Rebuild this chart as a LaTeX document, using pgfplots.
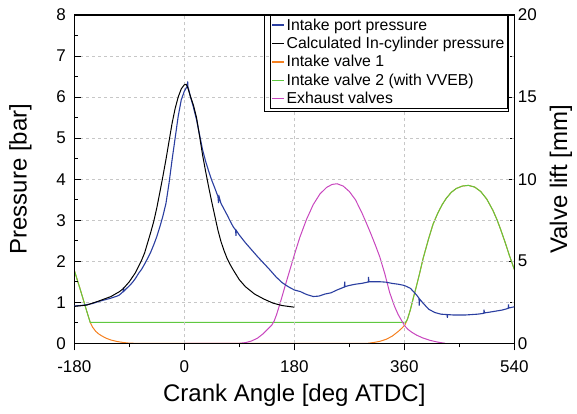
\documentclass[border=0pt]{standalone}
\usepackage{fontspec}
\setmainfont{Liberation Sans}
\usepackage{pgfplots}
\pgfplotsset{compat=1.18}
\definecolor{cblue}{RGB}{42,62,160}
\definecolor{corange}{RGB}{245,128,32}
\definecolor{cgreen}{RGB}{96,200,64}
\definecolor{cmag}{RGB}{200,70,190}
\begin{document}
\begin{tikzpicture}
\useasboundingbox (-74.3pt,-69.7pt) rectangle (502.7pt,343.3pt);
\pgfplotsset{
  common/.style={
    width=440pt, height=328.3pt, scale only axis,
    xmin=-180, xmax=540,
    /pgf/number format/assume math mode=true,
    tick label style={font=\fontsize{17}{20}\selectfont, black},
    label style={font=\fontsize{24}{28}\selectfont},
    major tick length=7pt, minor tick length=4pt,
    every tick/.style={black, line width=1pt},
    axis line style={line width=1.2pt},
  }
}
\begin{axis}[common,
  ymin=0, ymax=20,
  axis x line=none, axis y line*=right,
  ytick={0,5,...,20}, minor y tick num=1,
  ytick align=inside,
  ylabel={Valve lift [mm]},
  ylabel style={at={(axis description cs:1.106,0.5)}, anchor=center},
]
\addplot[corange, line width=1pt] coordinates {
(-180,4.45) (-170,3.25) (-160,2.00) (-154,1.28) (-150,0.98) (-145,0.73) (-140,0.57) (-135,0.45) (-128,0.31) (-120,0.20) (-110,0.11) (-100,0.05) (-90,0.01) (-80,0) (300,0) (310,0.05) (320,0.12) (330,0.24) (340,0.43) (350,0.72) (356,0.92) (361,1.12) (365,1.45) (370,2.05) (375,2.80) (380,3.50) (385,4.25) (391,5.20) (400,6.40) (407,7.25) (415,7.95) (422,8.45) (429,8.85) (437,9.20) (445,9.43) (455,9.58) (465,9.62) (475,9.52) (485,9.25) (495,8.78) (505,8.10) (512,7.50) (518,6.90) (525,6.15) (532,5.35) (540,4.50)
};
\addplot[cgreen, line width=1pt] coordinates {
(-180,4.45) (-170,3.25) (-160,2.00) (-154,1.28) (362,1.28) (365,1.45) (370,2.05) (375,2.80) (380,3.50) (385,4.25) (391,5.20) (400,6.40) (407,7.25) (415,7.95) (422,8.45) (429,8.85) (437,9.20) (445,9.43) (455,9.58) (465,9.62) (475,9.52) (485,9.25) (495,8.78) (505,8.10) (512,7.50) (518,6.90) (525,6.15) (532,5.35) (540,4.50)
};
\addplot[cmag, line width=1pt] coordinates {
(0,0) (90,0) (100,0.04) (110,0.14) (120,0.32) (129,0.58) (137,0.88) (143,1.10) (147,1.35) (151,1.75) (156,2.35) (160,2.85) (165,3.50) (173,4.50) (181,5.50) (189,6.45) (200,7.55) (211,8.45) (222,9.10) (233,9.50) (242,9.68) (250,9.72) (260,9.58) (270,9.25) (280,8.75) (290,8.00) (298,7.32) (305,6.70) (313,5.95) (320,5.25) (328,4.25) (336,3.10) (344,2.25) (350,1.75) (355,1.42) (361,1.05) (366,0.85) (372,0.68) (380,0.50) (390,0.33) (402,0.18) (415,0.07) (427,0)
};
\end{axis}
\begin{axis}[common,
  ymin=0, ymax=8,
  xtick={-180,0,180,360,540}, minor x tick num=1,
  ytick={0,1,...,8}, minor y tick num=1,
  xtick pos=bottom, ytick pos=left,
  xtick align=outside, ytick align=inside,
  xticklabel style={yshift=-7pt},
  yticklabel style={xshift=-5pt},
  grid=major,
  major grid style={dashed, black!22, line width=0.6pt},
  xlabel={Crank Angle [deg ATDC]},
  ylabel={Pressure [bar]},
  xlabel style={at={(axis description cs:0.5,-0.158)}, anchor=center},
  ylabel style={at={(axis description cs:-0.1227,0.5)}, anchor=center},
  legend image code/.code={\draw[mark repeat=2,mark phase=2,#1] plot coordinates {(0pt,0pt) (6pt,0pt) (12pt,0pt)};},
  legend style={at={(axis description cs:0.9857,1)}, anchor=north east,
    draw=black, line width=1.1pt, fill=white,
    font=\fontsize{15.8}{18}\selectfont,
    inner xsep=1pt, inner ysep=1pt, row sep=1.5pt},
  legend cell align=left,
]
\addplot[cblue, line width=1.1pt] coordinates {
(-180,0.91) (-170,0.92) (-160,0.94) (-150,0.97) (-140,1.02) (-130,1.06) (-120,1.10) (-110,1.15) (-106,1.18) (-100,1.26) (-99.5,1.36) (-99,1.27) (-95,1.33) (-90,1.40) (-85,1.48) (-80,1.58) (-75,1.70) (-70,1.80) (-65,1.93) (-60,2.07) (-55,2.22) (-50,2.40) (-45,2.60) (-40,2.84) (-35,3.10) (-30,3.41) (-25,3.90) (-20,4.47) (-15,5.00) (-10,5.53) (-5,5.93) (0,6.14) (3,6.22) (5,6.27) (5.5,6.38) (6,6.25) (7,6.20) (10,6.01) (15,5.75) (20,5.45) (25,5.08) (30,4.71) (35,4.43) (40,4.19) (45,3.97) (50,3.78) (55,3.58) (56,3.42) (57,3.57) (60,3.41) (65,3.27) (70,3.13) (75,2.98) (80,2.84) (84,2.76) (84.5,2.62) (85,2.75) (90,2.64) (100,2.45) (110,2.28) (120,2.11) (130,1.95) (140,1.79) (150,1.62) (160,1.48) (170,1.38) (180,1.30) (190,1.26) (200,1.19) (211,1.14) (220,1.15) (230,1.20) (240,1.23) (250,1.30) (260,1.36) (262,1.37) (262.5,1.50) (263,1.38) (270,1.41) (280,1.44) (290,1.46) (300,1.49) (301,1.49) (301.5,1.62) (302,1.50) (310,1.50) (320,1.50) (330,1.49) (340,1.46) (350,1.44) (360,1.41) (370,1.34) (380,1.18) (384,1.10) (384.5,0.92) (385,1.08) (390,0.99) (400,0.83) (410,0.75) (420,0.71) (430,0.70) (430.5,0.62) (431,0.70) (440,0.69) (460,0.69) (480,0.71) (490,0.73) (490.5,0.82) (491,0.74) (500,0.76) (520,0.81) (530,0.85) (530.5,0.95) (531,0.86) (540,0.89)
};
\addlegendentry{Intake port pressure}
\addplot[black, line width=1pt] coordinates {
(-180,0.90) (-160,0.93) (-140,1.03) (-120,1.14) (-106,1.26) (-100,1.33) (-90,1.50) (-80,1.72) (-70,2.02) (-65,2.20) (-60,2.45) (-55,2.70) (-50,2.97) (-45,3.30) (-40,3.68) (-35,4.07) (-30,4.48) (-25,4.92) (-20,5.36) (-15,5.72) (-10,6.00) (-5,6.20) (0,6.30) (3,6.31) (5,6.26) (10,6.02) (15,5.80) (20,5.50) (25,5.05) (30,4.58) (35,4.18) (40,3.80) (45,3.44) (50,3.10) (55,2.76) (60,2.48) (65,2.26) (70,2.07) (75,1.92) (80,1.79) (90,1.55) (100,1.38) (115,1.20) (130,1.08) (145,0.98) (160,0.92) (180,0.88)
};
\addlegendentry{Calculated In-cylinder pressure}
\addlegendimage{corange, line width=1.2pt}
\addlegendentry{Intake valve 1}
\addlegendimage{cgreen, line width=1pt}
\addlegendentry{Intake valve 2 (with VVEB)}
\addlegendimage{cmag, line width=1pt}
\addlegendentry{Exhaust valves}
\end{axis}
\draw[black, line width=1.1pt] (current axis.south west) ++(190.5pt,231.5pt) rectangle (434pt,328.3pt);
\end{tikzpicture}
\end{document}
